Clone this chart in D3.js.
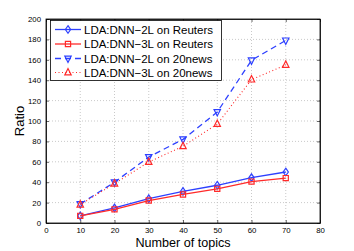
<!DOCTYPE html>
<html><head><meta charset="utf-8">
<script src="https://cdn.jsdelivr.net/npm/d3@7"></script>
<style>body{margin:0;background:#fff}svg{display:block}text{font-family:"Liberation Sans",Arial,sans-serif}</style>
</head><body><svg id="c" width="354" height="251"></svg>
<script>
const topics = [10,20,30,40,50,60,70];
const dnn2Reuters = [7,14.8,23.8,31,37,44.5,50];
const dnn3Reuters = [7,13.4,22,28,33.5,40.6,44];
const dnn2News = [18.6,40,64.7,82,108.8,159.5,179];
const dnn3News = [18,38.6,59.8,75.2,97,140.6,155];
const xTicks = [0,10,20,30,40,50,60,70,80];
const yTicks = [0,20,40,60,80,100,120,140,160,180,200];
const seriesNames = ["LDA:DNN\u22122L on Reuters","LDA:DNN\u22123L on Reuters","LDA:DNN\u22122L on 20news","LDA:DNN\u22123L on 20news"];

const svg = d3.select("#c");
const L=46,R=320,T=19,B=223;
const x = d3.scaleLinear().domain([0,80]).range([L,R]);
const y = d3.scaleLinear().domain([0,200]).range([B,T]);

// grid
const g = svg.append("g");
g.selectAll(".gx").data(xTicks.slice(1,-1)).enter().append("line")
 .attr("x1",d=>x(d)).attr("x2",d=>x(d)).attr("y1",T).attr("y2",B)
 .attr("stroke","#bbb").attr("stroke-width",0.8).attr("stroke-dasharray","1,2");
g.selectAll(".gy").data(yTicks.slice(1,-1)).enter().append("line")
 .attr("y1",d=>y(d)).attr("y2",d=>y(d)).attr("x1",L).attr("x2",R)
 .attr("stroke","#bbb").attr("stroke-width",0.8).attr("stroke-dasharray","1,2");

// axes
const ax = svg.append("g").attr("transform",`translate(0,${B})`)
 .call(d3.axisBottom(x).tickValues(xTicks).tickSizeInner(-3).tickSizeOuter(0).tickPadding(4));
const ay = svg.append("g").attr("transform",`translate(${L},0)`)
 .call(d3.axisLeft(y).tickValues(yTicks).tickSizeInner(-3).tickSizeOuter(0).tickPadding(5));
const axT = svg.append("g").attr("transform",`translate(0,${T})`)
 .call(d3.axisTop(x).tickValues(xTicks).tickSizeInner(-3).tickSizeOuter(0).tickFormat(""));
const ayR = svg.append("g").attr("transform",`translate(${R},0)`)
 .call(d3.axisRight(y).tickValues(yTicks).tickSizeInner(-3).tickSizeOuter(0).tickFormat(""));
[ax,ay,axT,ayR].forEach(a=>{
  a.selectAll("path").attr("stroke","#000").attr("stroke-width",0.8);
  a.selectAll("line").attr("stroke","#000").attr("stroke-width",0.6);
  a.selectAll("text").attr("font-size",7.8).attr("fill","#000").attr("font-family","Liberation Sans, Arial, sans-serif");
});
svg.append("rect").attr("x",L).attr("y",T).attr("width",R-L).attr("height",B-T)
 .attr("fill","none").attr("stroke","#000").attr("stroke-width",0.8);

const blue="#2d40ff", red="#ff2a2a";
const series = [
 {vals:dnn2Reuters,color:blue,dash:null,marker:"diamond"},
 {vals:dnn3Reuters,color:red,dash:null,marker:"square"},
 {vals:dnn2News,color:blue,dash:"6,4",marker:"down"},
 {vals:dnn3News,color:red,dash:"1,2.5",marker:"up"}
];
function marker(sel,type,color){
  const s=3.2;
  let p;
  if(type==="diamond") p=`M0,${-s-0.6}L${s-0.6},0L0,${s+0.6}L${-s+0.6},0Z`;
  else if(type==="square") p=`M${-s+0.6},${-s+0.6}h${2*s-1.2}v${2*s-1.2}h${-2*s+1.2}Z`;
  else if(type==="down") p=`M${-s},${-s+0.8}L${s},${-s+0.8}L0,${s+0.8}Z`;
  else p=`M${-s},${s-0.8}L${s},${s-0.8}L0,${-s-0.8}Z`;
  sel.append("path").attr("d",p).attr("fill","none").attr("stroke",color).attr("stroke-width",1.2);
}
const line = d3.line().x((d,i)=>x(topics[i])).y(d=>y(d));
series.forEach(s=>{
  svg.append("path").datum(s.vals).attr("d",line).attr("fill","none")
   .attr("stroke",s.color).attr("stroke-width",s.dash==="1,2.5"?1.1:1.3)
   .attr("stroke-dasharray",s.dash);
  s.vals.forEach((v,i)=>{
    const m=svg.append("g").attr("transform",`translate(${x(topics[i])},${y(v)})`);
    marker(m,s.marker,s.color);
  });
});

// legend
const lg = svg.append("g");
lg.append("rect").attr("x",50.5).attr("y",20.5).attr("width",171).attr("height",60)
 .attr("fill","#fff").attr("stroke","#000").attr("stroke-width",0.8);
const ly=[29.5,44,58.5,72.5];
series.forEach((s,i)=>{
  lg.append("line").attr("x1",55).attr("x2",81).attr("y1",ly[i]).attr("y2",ly[i])
   .attr("stroke",s.color).attr("stroke-width",s.dash==="1,2.5"?1.1:1.3).attr("stroke-dasharray",s.dash);
  const m=lg.append("g").attr("transform",`translate(68,${ly[i]})`);
  marker(m,s.marker,s.color);
  lg.append("text").attr("x",84).attr("y",ly[i]+4.2).attr("font-size",11.5).attr("fill","#000").text(seriesNames[i]);
});

svg.append("text").attr("x",(L+R)/2).attr("y",246.5).attr("text-anchor","middle").attr("font-size",12.6).text("Number of topics");
svg.append("text").attr("transform",`translate(23.5,${(T+B)/2}) rotate(-90)`).attr("text-anchor","middle").attr("font-size",13).text("Ratio");
</script></body></html>
